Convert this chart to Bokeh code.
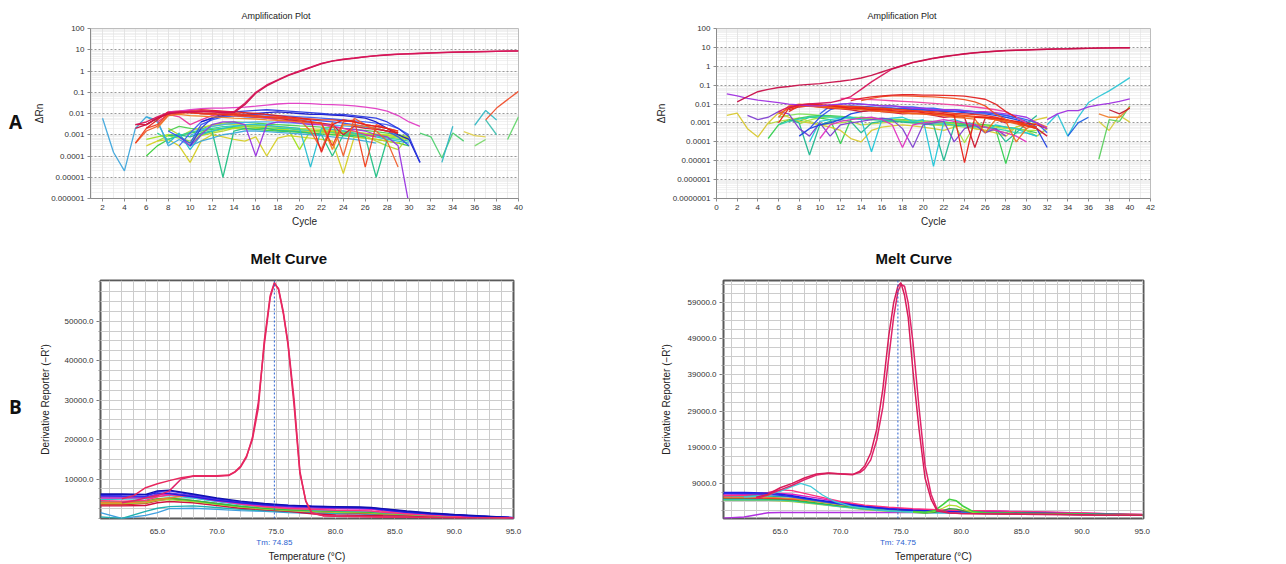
from bokeh.plotting import figure
from bokeh.models import FixedTicker, LinearAxis, Span, PrintfTickFormatter, Range1d
from bokeh.layouts import row, column
from bokeh.embed import file_html
from bokeh.resources import INLINE
from bokeh.core.properties import value

FONT = "Liberation Sans"

# ---------------- axis data ----------------
A1_X_TICKS = list(range(2, 41, 2))
A2_X_TICKS = list(range(0, 43, 2))
A1_Y_TICKS = [1e-6, 1e-5, 1e-4, 1e-3, 1e-2, 1e-1, 1, 10, 100]
A1_Y_LABELS = ["0.000001", "0.00001", "0.0001", "0.001", "0.01", "0.1", "1", "10", "100"]
A2_Y_TICKS = [1e-7, 1e-6, 1e-5, 1e-4, 1e-3, 1e-2, 1e-1, 1, 10, 100]
A2_Y_LABELS = ["0.0000001", "0.000001", "0.00001", "0.0001", "0.001", "0.01", "0.1", "1", "10", "100"]

B_X_TICKS = [65, 70, 75, 80, 85, 90, 95]
B1_Y_TICKS = [10000, 20000, 30000, 40000, 50000]
B2_Y_TICKS = [9000, 19000, 29000, 39000, 49000, 59000]
B1_TM = 74.85
B2_TM = 74.75

# ---------------- amplification plot 1 (start cycle, dRn values) ----------------
A1_MAIN_1 = (5, [0.003, 0.004, 0.007, 0.011, 0.012, 0.012, 0.013, 0.013, 0.012, 0.012, 0.03, 0.1, 0.22, 0.38, 0.66, 1.0, 1.5, 2.3, 3.0, 3.6, 4.1, 4.7, 5.3, 5.8, 6.2, 6.5, 6.8, 7.1, 7.4, 7.7, 7.9, 8.1, 8.3, 8.5, 8.7, 8.9])
A1_MAIN_2 = (5, [0.002, 0.003, 0.006, 0.010, 0.011, 0.012, 0.012, 0.012, 0.011, 0.011, 0.026, 0.09, 0.2, 0.36, 0.62, 0.95, 1.45, 2.2, 2.9, 3.5, 4.0, 4.6, 5.2, 5.7, 6.1, 6.4, 6.7, 7.0, 7.3, 7.6, 7.8, 8.0, 8.2, 8.4, 8.6, 8.8])
A1_MAGENTA = (8, [0.012, 0.013, 0.015, 0.017, 0.018, 0.018, 0.019, 0.02, 0.022, 0.025, 0.028, 0.03, 0.03, 0.029, 0.027, 0.026, 0.025, 0.023, 0.02, 0.017, 0.013, 0.008, 0.004, 0.0025])
A1_S01 = (6, [0.002, 0.005, 0.012, 0.013, 0.014, 0.015, 0.014, 0.013, 0.012, 0.011, 0.010, 0.009, 0.008, 0.007, 0.006, 0.005, 0.00015, 0.003, 0.005, 0.004, 0.003, 0.0025, 0.002, 0.0012])
A1_S02 = (5, [0.0004, 0.002, 0.003, 0.010, 0.011, 0.012, 0.013, 0.012, 0.011, 0.010, 0.009, 0.008, 0.007, 0.006, 0.006, 0.005, 0.004, 0.0035, 0.0003, 0.004, 0.005, 0.00003, 0.003, 0.002, 0.0015])
A1_S03 = (5, [0.003, 0.003, 0.006, 0.009, 0.012, 0.011, 0.010, 0.009, 0.0085, 0.008, 0.0075, 0.007, 0.0065, 0.006, 0.005, 0.0045, 0.004, 0.0035, 0.003, 0.001, 0.0025, 0.002, 0.0018, 0.0015, 0.0012])
A1_S04 = (7, [0.004, 0.009, 0.007, 0.003, 0.005, 0.008, 0.010, 0.009, 0.008, 0.007, 0.006, 0.005, 0.0045, 0.004, 0.0035, 0.003, 0.0025, 0.002, 0.0015, 0.001, 0.0008])
A1_S05 = (10, [0.0003, 0.002, 0.006, 0.010, 0.012, 0.013, 0.014, 0.015, 0.014, 0.013, 0.012, 0.011, 0.010, 0.009, 0.009, 0.008, 0.007, 0.006, 0.004, 0.002, 0.0008, 0.00005])
A1_S06 = (8, [0.0015, 0.0008, 0.0004, 0.003, 0.005, 0.007, 0.008, 0.007, 0.0065, 0.006, 0.006, 0.0055, 0.005, 0.005, 0.0045, 0.004, 0.0035, 0.003, 0.0025, 0.002, 0.0015, 0.0008, 0.0003])
A1_S07 = (9, [0.0008, 0.0003, 0.001, 0.003, 0.004, 0.004, 0.003, 0.0001, 0.003, 0.004, 0.004, 0.0035, 0.003, 0.003, 0.0025, 0.002, 0.0018, 0.0015, 0.001, 0.0008, 0.0003, 0.0000005])
A1_S08 = (6, [0.007, 0.004, 0.0004, 0.0012, 0.0002, 0.001, 0.0015, 0.002, 0.0025, 0.003, 0.003, 0.0028, 0.0025, 0.0022, 0.002, 0.00003, 0.002, 0.0018, 0.0015, 0.0012, 0.001, 0.0008, 0.0006, 0.0005, 0.0004])
A1_S09 = (8, [0.0009, 0.001, 0.0008, 0.0012, 0.0015, 0.00001, 0.0015, 0.002, 0.0018, 0.002, 0.0016, 0.0015, 0.0014, 0.0012, 0.001, 0.0001, 0.001, 0.0009, 0.0008, 0.00001, 0.0006])
A1_S10 = (6, [0.0001, 0.0003, 0.0006, 0.0009, 0.0012, 0.0015, 0.0018, 0.002, 0.0022, 0.002, 0.0018, 0.0016, 0.0015, 0.0014, 0.0013, 0.0012, 0.0011, 0.001, 0.0009, 0.0008, 0.0007, 0.0006, 0.0005, 0.0004, 0.0003])
A1_S11 = (7, [0.0005, 0.0009, 0.0007, 0.0005, 0.0012, 0.0025, 0.003, 0.0035, 0.003, 0.0028, 0.0025, 0.0022, 0.002, 0.0018, 0.0016, 0.0015, 0.0014, 0.0012, 0.0011, 0.001, 0.0009, 0.0008, 0.0007, 0.0006])
A1_S12 = (6, [0.0003, 0.0005, 0.0006, 0.0003, 0.00005, 0.0005, 0.001, 0.0008, 0.0006, 0.0005, 0.0008, 0.0001, 0.0007, 0.0009, 0.0008, 0.0007, 0.0006, 0.0005, 0.000015, 0.0008, 0.0007, 0.0006, 0.0005, 0.0004, 0.001])
A1_S13 = (8, [0.002, 0.001, 0.0003, 0.0009, 0.0012, 0.0015, 0.002, 0.0018, 0.002, 0.0019, 0.0017, 0.0016, 0.0015, 0.0014, 0.0013, 0.0012, 0.0011, 0.001, 0.0009, 0.0005, 0.0003, 0.0002, 0.0009])
A1_S14 = (2, [0.006, 0.00015, 0.00002, 0.002, 0.007, 0.005, 0.0003, 0.0006, 0.0003, 0.0005, 0.0007, 0.001, 0.0012, 0.0015, 0.0015, 0.0014, 0.0013, 0.0012, 0.0011, 0.001, 0.0009, 0.0008, 0.0007, 0.0006, 0.0005, 0.0004])
A1_S15 = (5, [0.0004, 0.0015, 0.0025, 0.008, 0.01, 0.011, 0.01, 0.009, 0.009, 0.008, 0.0075, 0.007, 0.0068, 0.0065, 0.006, 0.005, 0.0015, 0.0002, 0.004, 0.0001, 0.006, 0.003, 0.0015, 0.0005, 0.00003])
A1_S16 = (11, [0.004, 0.006, 0.008, 0.009, 0.009, 0.01, 0.011, 0.012, 0.011, 0.01, 0.009, 0.009, 0.0085, 0.008, 0.007, 0.006, 0.004, 0.002, 0.001, 0.0006, 0.00005])
A1_S17 = (31, [0.0012, 0.0008, 0.00008, 0.0012, 0.0005])
A1_S18 = (33, [0.00005, 0.0025])
A1_S19 = (35, [0.0014, 0.0009, 0.0008])
A1_S20 = (36, [0.0003, 0.0006])
A1_S21 = (36, [0.0028, 0.014, 0.005])
A1_S22 = (37, [0.005, 0.001])
A1_S23 = (39, [0.0006, 0.007])
A1_S24 = (37, [0.005, 0.018, 0.045, 0.11])
A1_S25 = (6, [0.003, 0.006, 0.011, 0.012, 0.011, 0.010, 0.010, 0.009, 0.009, 0.008, 0.008, 0.007, 0.007, 0.006, 0.006, 0.0055, 0.005, 0.005, 0.0045, 0.004, 0.003, 0.0025, 0.002, 0.0015])
A1_S26 = (7, [0.002, 0.008, 0.009, 0.008, 0.0075, 0.007, 0.0065, 0.006, 0.0058, 0.0055, 0.005, 0.0048, 0.0045, 0.004, 0.0038, 0.0035, 0.0002, 0.003, 0.0028, 0.0025, 0.002, 0.0015, 0.0012])
A1_S27 = (9, [0.0003, 0.0012, 0.004, 0.006, 0.007, 0.008, 0.009, 0.009, 0.0085, 0.008, 0.0075, 0.007, 0.0065, 0.006, 0.0055, 0.005, 0.0045, 0.004, 0.0035, 0.003, 0.002, 0.001])
A1_S28 = (8, [0.0015, 0.0025, 0.002, 0.0018, 0.003, 0.0035, 0.004, 0.0038, 0.0035, 0.0032, 0.003, 0.0028, 0.0026, 0.0025, 0.0023, 0.0022, 0.002, 0.0018, 0.0016, 0.0014, 0.0012, 0.001, 0.0008])
A1_S29 = (9, [0.0008, 0.0015, 0.0022, 0.0028, 0.0032, 0.003, 0.0028, 0.0026, 0.0025, 0.0024, 0.0022, 0.002, 0.0019, 0.0018, 0.0016, 0.0015, 0.0014, 0.0012, 0.0011, 0.001, 0.0009, 0.0008])
A1_S30 = (7, [0.0012, 0.0006, 0.0009, 0.0013, 0.0017, 0.002, 0.0024, 0.0026, 0.0025, 0.0023, 0.0021, 0.002, 0.0019, 0.0017, 0.0016, 0.0015, 0.0013, 0.0012, 0.0011, 0.001, 0.0009, 0.0007, 0.0006, 0.0005])
A1_S31 = (10, [0.0009, 0.0016, 0.0025, 0.003, 0.0034, 0.0038, 0.004, 0.004, 0.0038, 0.0036, 0.0034, 0.0032, 0.003, 0.0028, 0.0026, 0.0024, 0.0022, 0.002, 0.0015, 0.001])
A1_S32 = (6, [0.0006, 0.0008, 0.001, 0.0009, 0.0004, 0.001, 0.0014, 0.0018, 0.0021, 0.0024, 0.0022, 0.002, 0.0018, 0.0017, 0.0002, 0.0016, 0.0015, 0.0014, 0.0013, 0.0012, 0.0011, 0.001, 0.0009, 0.0008, 0.0007])

# ---------------- amplification plot 2 ----------------
A2_MAIN_1 = (2, [0.013, 0.025, 0.045, 0.06, 0.075, 0.085, 0.1, 0.11, 0.12, 0.14, 0.16, 0.19, 0.24, 0.33, 0.5, 0.75, 1.1, 1.6, 2.1, 2.7, 3.3, 3.9, 4.6, 5.2, 5.8, 6.3, 6.8, 7.1, 7.4, 7.7, 8.0, 8.3, 8.5, 8.8, 9.0, 9.2, 9.4, 9.5, 9.6])
A2_MAIN_2 = (6, [0.004, 0.007, 0.009, 0.01, 0.011, 0.012, 0.016, 0.025, 0.06, 0.15, 0.33, 0.72, 1.05, 1.55, 2.0, 2.6, 3.2, 3.8, 4.5, 5.1, 5.7, 6.2, 6.7, 7.0, 7.3, 7.6, 7.9, 8.2, 8.4, 8.7, 8.9, 9.1, 9.3, 9.4, 9.5])
A2_PURPLE_L = (1, [0.035, 0.027, 0.02, 0.016, 0.014, 0.012, 0.01, 0.009, 0.008, 0.008, 0.009, 0.01, 0.011, 0.01, 0.009, 0.008, 0.008, 0.007, 0.006, 0.006, 0.005, 0.005, 0.005, 0.0045, 0.004, 0.004, 0.0035, 0.003, 0.0025, 0.002, 0.001, 0.0005])
A2_PURPLE_R = (32, [0.0015, 0.003, 0.0045, 0.0045, 0.007, 0.009, 0.011, 0.014, 0.019])
A2_HIGH_1 = (13, [0.015, 0.02, 0.024, 0.027, 0.03, 0.031, 0.031, 0.03, 0.03, 0.029, 0.028, 0.026, 0.022, 0.018, 0.01, 0.004, 0.002])
A2_HIGH_2 = (14, [0.015, 0.02, 0.025, 0.027, 0.027, 0.026, 0.025, 0.024, 0.022, 0.02, 0.017, 0.013, 0.008, 0.003, 0.0015, 0.001, 0.0005])
A2_HIGH_3 = (12, [0.02, 0.02, 0.018, 0.017, 0.016, 0.015, 0.014, 0.013, 0.012, 0.011, 0.01, 0.009, 0.008, 0.007, 0.006, 0.005, 0.004, 0.002, 0.001])
A2_S01 = (6, [0.001, 0.006, 0.009, 0.01, 0.009, 0.008, 0.007, 0.006, 0.006, 0.005, 0.005, 0.0045, 0.004, 0.004, 0.0035, 0.003, 0.003, 0.0025, 0.000008, 0.002, 0.002, 0.0018, 0.0015, 0.0012, 0.001, 0.0008, 0.0005])
A2_S02 = (6, [0.002, 0.008, 0.01, 0.009, 0.008, 0.007, 0.0065, 0.006, 0.0055, 0.005, 0.0045, 0.004, 0.0035, 0.003, 0.003, 0.0028, 0.0025, 0.002, 0.0018, 0.0016, 0.0003, 0.0015, 0.0012, 0.0001, 0.0005, 0.001, 0.0006])
A2_S03 = (7, [0.005, 0.007, 0.008, 0.007, 0.006, 0.0055, 0.005, 0.004, 0.0045, 0.004, 0.0035, 0.003, 0.0032, 0.003, 0.0025, 0.002, 0.0022, 0.002, 0.00005, 0.0018, 0.0015, 0.001, 0.0012, 0.0008, 0.0005, 0.0002])
A2_S04 = (8, [0.0002, 0.0005, 0.0008, 0.001, 0.0015, 0.003, 0.004, 0.005, 0.006, 0.006, 0.0055, 0.005, 0.005, 0.0045, 0.004, 0.004, 0.0035, 0.003, 0.003, 0.0025, 0.002, 0.0015, 0.001, 0.0005, 0.00005])
A2_S05 = (10, [0.003, 0.008, 0.01, 0.011, 0.01, 0.009, 0.008, 0.008, 0.007, 0.007, 0.006, 0.006, 0.005, 0.005, 0.0045, 0.004, 0.0035, 0.003, 0.0025, 0.002, 0.0015, 0.001, 0.0003])
A2_S06 = (9, [0.0001, 0.0012, 0.0015, 0.0018, 0.002, 0.0015, 0.00003, 0.0015, 0.0018, 0.002, 0.0012, 0.0015, 0.000005, 0.0012, 0.0015, 0.001, 0.0009, 0.0003, 0.0008, 0.0006, 0.0005, 0.0003, 0.0002])
A2_S07 = (5, [0.00015, 0.0008, 0.0015, 0.0012, 0.002, 0.0018, 0.0015, 0.00008, 0.0015, 0.002, 0.0018, 0.0016, 0.0015, 0.0014, 0.0013, 0.0012, 0.0011, 0.001, 0.0009, 0.0008, 0.0007, 0.0006, 0.0005, 0.000007, 0.0005])
A2_S08 = (6, [0.002, 0.0025, 0.003, 0.0028, 0.0025, 0.0022, 0.002, 0.0018, 0.0016, 0.0015, 0.0014, 0.0013, 0.0012, 0.0011, 0.001, 0.0009, 0.0008, 0.0007, 0.0006, 0.0005, 0.0004, 0.0004, 0.0003, 0.0006, 0.0009, 0.001])
A2_S09 = (1, [0.0025, 0.0033, 0.0005, 0.00018, 0.001, 0.0035, 0.002, 0.0012, 0.001, 0.0008, 0.0006, 0.0004, 0.00015, 0.0001, 0.0004, 0.0006, 0.0007, 0.0008, 0.0007, 0.0006, 0.0005, 0.0004, 0.0006, 0.0008, 0.0005, 0.0004, 0.0003, 0.0002, 0.0006, 0.001, 0.0015, 0.002])
A2_S10 = (5, [0.0009, 0.0012, 0.0015, 0.0018, 0.0012, 0.0008, 0.0009, 0.001, 0.0012, 0.0008, 0.0009, 0.001, 0.0011, 0.0012, 0.001, 0.0009, 0.0008, 0.0007, 0.0008, 0.0009, 0.001, 0.0008, 0.0007, 0.0006, 0.0005, 0.0004, 0.0002, 0.0005])
A2_S11 = (3, [0.0025, 0.0015, 0.002, 0.004, 0.003, 0.0005, 0.0002, 0.001, 0.0002, 0.0008, 0.001, 0.0012, 0.0015, 0.0018, 0.0015, 0.0005, 0.00005, 0.0008, 0.001, 0.0012, 0.0001, 0.0005, 0.0008, 0.0003, 0.0005, 0.0002])
A2_S12 = (7, [0.0015, 0.001, 0.00002, 0.0008, 0.0012, 0.0015, 0.0012, 0.0003, 0.001, 0.0012, 0.0013, 0.0011, 0.001, 0.0009, 0.0008, 0.00001, 0.0007, 0.0008, 0.0007, 0.0006, 0.0005, 0.0001, 0.0003, 0.0009, 0.0025])
A2_S13 = (10, [0.00015, 0.0008, 0.0012, 0.0015, 0.0018, 0.002, 0.0015, 0.0008, 0.00005, 0.0008, 0.001, 0.0012, 0.0015, 0.0012, 0.001, 0.0008, 0.0006, 0.0004, 0.0003, 0.0002, 0.0001])
A2_S14 = (32, [0.0008, 0.003, 0.0002, 0.002, 0.012, 0.025, 0.05, 0.11, 0.25])
A2_S15 = (34, [0.0002, 0.001, 0.002])
A2_S16 = (37, [0.0012, 0.0004, 0.0025, 0.0011])
A2_S17 = (37, [0.000012, 0.0015, 0.0012, 0.008])
A2_S18 = (37, [0.003, 0.002, 0.002, 0.007])
A2_S19 = (38, [0.005, 0.003, 0.006])
A2_S20 = (7, [0.004, 0.008, 0.009, 0.0085, 0.008, 0.0075, 0.007, 0.0065, 0.006, 0.0055, 0.005, 0.0048, 0.0045, 0.0042, 0.004, 0.0036, 0.0032, 0.003, 0.0028, 0.0025, 0.002, 0.0015, 0.001, 0.0007, 0.0005])
A2_S21 = (6, [0.003, 0.006, 0.008, 0.0075, 0.007, 0.0065, 0.006, 0.0055, 0.005, 0.0045, 0.004, 0.0038, 0.0035, 0.0033, 0.003, 0.0028, 0.0026, 0.0024, 0.0022, 0.002, 0.0018, 0.0015, 0.0012, 0.0009, 0.0007, 0.0005])
A2_S22 = (9, [0.0005, 0.002, 0.005, 0.007, 0.008, 0.0075, 0.007, 0.0065, 0.006, 0.0058, 0.0055, 0.005, 0.0048, 0.0045, 0.0042, 0.004, 0.0038, 0.0035, 0.003, 0.0025, 0.0018, 0.0012, 0.0006])
A2_S23 = (7, [0.0012, 0.0018, 0.0022, 0.0025, 0.0024, 0.0022, 0.002, 0.0019, 0.0018, 0.0017, 0.0016, 0.0015, 0.0014, 0.0013, 0.0012, 0.0011, 0.001, 0.0009, 0.0008, 0.0008, 0.0007, 0.0006, 0.0005, 0.0004, 0.0003])
A2_S24 = (8, [0.0009, 0.0014, 0.0019, 0.0021, 0.002, 0.0019, 0.0018, 0.0017, 0.0016, 0.0015, 0.0014, 0.0013, 0.0012, 0.0011, 0.001, 0.0009, 0.00009, 0.0008, 0.0007, 0.0006, 0.0005, 0.0005, 0.0004, 0.0004])
A2_S25 = (6, [0.0008, 0.0012, 0.0016, 0.002, 0.0022, 0.0021, 0.002, 0.0018, 0.0016, 0.0015, 0.0014, 0.0013, 0.0012, 0.0011, 0.001, 0.0009, 0.0009, 0.0008, 0.0007, 0.0006, 0.0006, 0.0005, 0.0004, 0.0003, 0.0003, 0.0002])
A2_S26 = (7, [0.006, 0.009, 0.01, 0.009, 0.0085, 0.008, 0.0075, 0.007, 0.0065, 0.006, 0.0055, 0.005, 0.0045, 0.004, 0.0035, 0.003, 0.0028, 0.0025, 0.0022, 0.002, 0.0017, 0.0014, 0.0011, 0.0008, 0.0006])

# ---------------- melt curves ----------------
MELT_T = [60.2, 62, 64, 65, 66, 68, 70, 72, 74, 76, 78, 80, 82, 83, 84, 86, 88, 90, 92, 95]
B1_BG_01 = [6000, 6000, 6000, 6500, 6300, 5500, 4600, 4000, 3500, 3200, 3000, 2800, 2700, 2600, 2200, 1600, 1200, 900, 600, 200]
B1_BG_02 = [5800, 5700, 5600, 6800, 7000, 6000, 5000, 4200, 3600, 3300, 3100, 2900, 2800, 2700, 2300, 1700, 1200, 900, 600, 200]
B1_BG_03 = [5200, 5200, 5300, 6000, 6200, 5500, 4500, 3700, 3200, 2900, 2700, 2500, 2400, 2300, 2000, 1500, 1100, 800, 500, 150]
B1_BG_04 = [3500, 3500, 3800, 4500, 5000, 4500, 3800, 3000, 2500, 2200, 1800, 1600, 1400, 1300, 1100, 900, 700, 500, 300, 100]
B1_BG_05 = [4500, 4400, 4600, 5500, 6000, 5600, 4700, 3800, 3000, 2600, 2300, 2100, 2000, 1900, 1600, 1200, 900, 600, 400, 100]
B1_BG_06 = [4200, 4200, 4400, 5000, 5200, 4600, 3800, 3100, 2600, 2200, 2000, 1800, 1700, 1600, 1400, 1100, 800, 600, 400, 100]
B1_BG_07 = [4800, 4900, 5000, 5600, 5800, 5200, 4300, 3500, 2900, 2500, 2200, 2000, 1900, 1800, 1500, 1100, 800, 600, 400, 100]
B1_BG_08 = [4000, 4000, 4200, 4800, 5200, 6000, 4800, 3600, 2900, 2500, 2400, 2500, 2600, 2600, 1800, 1200, 900, 600, 400, 100]
B1_BG_09 = [5500, 5500, 5400, 6200, 6500, 5800, 4800, 4000, 3400, 3000, 2800, 2700, 2700, 2700, 2400, 1800, 1300, 900, 600, 200]
B1_BG_10 = [3800, 3800, 4000, 4600, 4800, 4300, 3600, 2900, 2400, 2000, 1800, 1600, 1500, 1400, 1200, 1000, 700, 500, 300, 100]
B1_BG_11 = [6200, 6200, 6100, 7000, 7200, 6200, 5200, 4400, 3800, 3400, 3100, 3000, 2900, 2800, 2500, 1900, 1400, 1000, 700, 200]
B1_BG_12 = [3200, 3200, 3300, 4000, 4300, 4000, 3300, 2600, 2200, 1800, 1200, 900, 800, 800, 700, 600, 500, 400, 300, 100]
B1_BG_13 = [1500, 0, 800, 1500, 2500, 2600, 2300, 2000, 1800, 1500, 1300, 1200, 1100, 1000, 900, 700, 500, 400, 200, 50]
B1_BG_14 = [400, 0, 1800, 2600, 3000, 3200, 2800, 2300, 2000, 1700, 1500, 1400, 1300, 1200, 1000, 800, 600, 400, 250, 50]

B1_PEAK_T = [62, 63, 64, 65, 66, 67, 68, 69, 70, 71, 71.5, 72, 72.5, 73, 73.5, 74, 74.5, 74.85, 75.2, 75.6, 76, 76.5, 77, 77.5, 78, 79, 80, 82, 84, 86, 88, 90, 92, 95]
B1_PEAK_1 = [5000, 5800, 7800, 8800, 9600, 10300, 10800, 10800, 10800, 11000, 11800, 13200, 15800, 20000, 28000, 45000, 56500, 59800, 58000, 52000, 44000, 29000, 11500, 4500, 1500, 700, 600, 500, 400, 300, 250, 200, 150, 100]
B1_PEAK_2 = [4000, 4500, 5200, 5800, 7000, 10000, 10700, 10700, 10700, 10900, 11700, 13000, 15500, 20500, 29500, 44000, 56000, 59500, 58300, 52500, 44500, 30500, 12000, 4300, 1300, 700, 600, 500, 400, 300, 250, 200, 150, 100]

B2_BG_01 = [6500, 6500, 6300, 6000, 5600, 4500, 3500, 2600, 2000, 1600, 1300, 1100, 1000, 950, 900, 800, 700, 600, 500, 300]
B2_BG_02 = [6200, 6200, 6000, 5700, 5300, 4300, 3300, 2500, 1900, 1500, 1200, 1000, 900, 850, 800, 700, 600, 500, 400, 250]
B2_BG_03 = [5800, 5900, 6000, 6200, 6000, 5000, 3800, 2800, 2200, 1800, 1500, 1400, 1400, 1400, 1300, 1200, 1000, 800, 600, 400]
B2_BG_04 = [5600, 5700, 6500, 7200, 7000, 5500, 4000, 3000, 2400, 2000, 1700, 1500, 1400, 1300, 1200, 1100, 1000, 800, 600, 400]
B2_BG_05 = [4800, 4800, 4700, 4600, 4400, 3600, 2800, 2100, 1600, 1300, 1100, 1000, 900, 850, 800, 700, 600, 500, 400, 250]
B2_BG_06 = [5200, 5200, 5100, 5000, 4800, 4000, 3100, 2400, 1800, 1500, 1300, 1200, 1100, 1000, 950, 850, 750, 600, 500, 300]
B2_BG_07 = [5000, 5000, 4900, 4800, 4700, 4200, 3400, 2600, 2000, 1700, 1500, 1400, 1300, 1200, 1100, 1000, 900, 700, 500, 300]
B2_BG_08 = [4500, 4500, 4500, 4400, 4200, 3400, 2600, 1900, 1400, 1100, 900, 800, 700, 650, 600, 550, 500, 400, 300, 200]
B2_BG_09 = [4300, 4300, 4300, 4200, 4000, 3300, 2500, 1800, 1300, 1100, 1300, 900, 700, 650, 600, 550, 500, 400, 300, 200]
B2_BG_10 = [-650, -300, 900, 950, 950, 950, 950, 950, 950, 950, 950, 900, 850, 800, 700, 600, 500, 400, 300, 200]
B2_BG_11 = [5500, 5600, 5500, 5400, 5200, 4200, 3200, 2400, 1800, 1400, 1100, 900, 800, 750, 700, 650, 600, 500, 400, 250]
B2_CYAN_T = [62, 63, 64, 65, 66, 66.7, 67.5, 68.5, 69.5, 71, 73, 75, 78, 80, 85, 90, 95]
B2_CYAN = [5200, 5400, 5800, 6800, 8200, 9000, 8200, 5800, 4000, 2600, 1700, 1200, 900, 800, 600, 400, 200]
B2_BUMP_T = [76, 77, 77.8, 78.5, 79, 79.6, 80.2, 81, 82, 84, 88, 95]
B2_BUMP_1 = [1200, 1000, 1500, 3200, 4600, 4200, 2600, 1200, 900, 800, 600, 300]
B2_BUMP_2 = [1100, 900, 1300, 2200, 3000, 2800, 1800, 1000, 800, 700, 500, 250]
B2_BUMP_3 = [1000, 800, 1000, 1500, 2000, 1900, 1400, 900, 700, 600, 450, 250]
B2_PEAK_T = [63, 64, 65, 66, 67, 68, 69, 70, 71, 71.6, 72, 72.5, 73, 73.5, 74, 74.4, 74.75, 75, 75.3, 75.6, 76, 76.5, 77, 77.5, 78, 79, 80, 82, 85, 88, 91, 95]
B2_PEAK_1 = [5200, 6000, 7800, 9000, 10500, 11600, 11900, 11600, 11400, 12400, 13800, 17400, 24000, 35000, 50000, 59000, 63500, 64500, 61000, 55000, 40000, 24000, 10500, 4600, 1400, 800, 700, 600, 500, 400, 300, 200]
B2_PEAK_2 = [4800, 5800, 7200, 8500, 10000, 11300, 11800, 11700, 11500, 12000, 13000, 15500, 21000, 30000, 44000, 55000, 62000, 64000, 63500, 59000, 48000, 30000, 14000, 6000, 1800, 900, 700, 600, 500, 400, 300, 200]

PANEL_LETTERS = ["A", "B"]

TOP_H = 234
BOT_H = 330


def letter_fig(h, letter, ypos):
    p = figure(width=30, height=h, x_range=Range1d(0, 30), y_range=Range1d(h, 0),
               x_axis_type=None, y_axis_type=None, toolbar_location=None,
               output_backend="svg", min_border=0)
    p.grid.visible = False
    p.outline_line_color = None
    p.text(x=[15], y=[ypos], text=[letter], text_align="center", text_baseline="middle",
           text_font=value("Open Sans"), text_font_style="bold", text_font_size="19px",
           text_color="#111111")
    return p


def style_axis(ax, label_size="10px", tick_size="8px"):
    ax.major_label_text_font = FONT
    ax.major_label_text_font_size = tick_size
    ax.major_label_text_color = "#333333"
    ax.axis_label_text_font = FONT
    ax.axis_label_text_font_size = label_size
    ax.axis_label_text_font_style = "normal"
    ax.axis_label_text_color = "#222222"


def amp_fig(width, xr, yr, xticks, yticks, ylabels, bl, br, bt, bb, toff, x_minor):
    p = figure(width=width, height=TOP_H, x_range=xr, y_range=yr, y_axis_type="log",
               output_backend="svg", toolbar_location=None,
               min_border_left=bl, min_border_right=br, min_border_top=bt, min_border_bottom=bb)
    p.title.text = "Amplification Plot"
    p.title.align = "left"
    p.title.offset = toff
    p.title.text_font = FONT
    p.title.text_font_size = "9px"
    p.title.text_font_style = "normal"
    p.title.text_color = "#222222"
    p.title.standoff = 15
    xt = FixedTicker(ticks=xticks, minor_ticks=x_minor)
    y_minor = [m * 10.0 ** e for e in range(-8, 3) for m in range(2, 10)]
    yt = FixedTicker(ticks=yticks, minor_ticks=y_minor)
    p.xaxis.ticker = xt
    p.yaxis.ticker = yt
    p.xgrid.ticker = xt
    p.ygrid.ticker = yt
    p.yaxis.major_label_overrides = dict(zip(yticks, ylabels))
    p.xaxis.axis_label = "Cycle"
    p.yaxis.axis_label = "ΔRn"
    for ax in (p.xaxis[0], p.yaxis[0]):
        style_axis(ax)
        ax.axis_line_color = "#8c8c8c"
        ax.major_tick_line_color = "#8c8c8c"
        ax.minor_tick_line_color = None
        ax.major_tick_out = 3
        ax.major_tick_in = 0
        ax.major_label_standoff = 2
        ax.axis_label_standoff = 3
    p.ygrid.grid_line_color = "#9a9a9a"
    p.ygrid.grid_line_dash = "2 2"
    p.ygrid.minor_grid_line_color = "#e2e2e2"
    p.ygrid.minor_grid_line_dash = "1 1"
    p.xgrid.grid_line_color = "#dadada"
    p.xgrid.grid_line_dash = "1 1"
    p.xgrid.minor_grid_line_color = "#dadada"
    p.xgrid.minor_grid_line_dash = "1 1"
    p.outline_line_color = "#bdbdbd"
    return p


def add_series(p, series, color, width=1.3):
    start, vals = series
    xs = list(range(start, start + len(vals)))
    p.line(xs, vals, line_color=color, line_width=width, line_alpha=0.95)


def melt_fig(width, xr, yr, yticks, yminor, tm, bl, br, toff, label_standoff):
    p = figure(width=width, height=BOT_H, x_range=xr, y_range=yr,
               output_backend="svg", toolbar_location=None,
               min_border_left=bl, min_border_right=br, min_border_top=45, min_border_bottom=45)
    p.title.text = "Melt Curve"
    p.title.align = "left"
    p.title.offset = toff
    p.title.text_font = FONT
    p.title.text_font_size = "15px"
    p.title.text_font_style = "bold"
    p.title.text_color = "#111111"
    p.title.standoff = 27
    xt = FixedTicker(ticks=B_X_TICKS, minor_ticks=list(range(60, 96)))
    yt = FixedTicker(ticks=yticks, minor_ticks=yminor)
    p.xaxis.ticker = xt
    p.yaxis.ticker = yt
    p.xgrid.ticker = xt
    p.ygrid.ticker = yt
    p.xaxis.formatter = PrintfTickFormatter(format="%.1f")
    p.yaxis.formatter = PrintfTickFormatter(format="%.1f")
    p.yaxis.axis_label = "Derivative Reporter (−R')"
    for ax in (p.xaxis[0], p.yaxis[0]):
        style_axis(ax)
        ax.axis_line_color = None
    p.xaxis.major_tick_out = 0
    p.xaxis.minor_tick_out = 0
    p.xaxis.major_tick_line_color = None
    p.xaxis.minor_tick_line_color = None
    p.xaxis.major_label_standoff = 10
    p.yaxis.major_tick_out = 4
    p.yaxis.minor_tick_out = 2
    p.yaxis.major_tick_in = 0
    p.yaxis.minor_tick_in = 0
    p.yaxis.major_tick_line_color = "#777777"
    p.yaxis.minor_tick_line_color = "#999999"
    p.yaxis.major_label_standoff = 3
    p.yaxis.axis_label_standoff = label_standoff
    tm_axis = LinearAxis(ticker=FixedTicker(ticks=[tm]),
                         formatter=PrintfTickFormatter(format="Tm: %.2f"),
                         axis_line_color=None, major_tick_line_color=None,
                         minor_tick_line_color=None, major_tick_out=0, minor_tick_out=0,
                         major_label_standoff=1, axis_label="Temperature (°C)",
                         axis_label_standoff=1)
    style_axis(tm_axis)
    tm_axis.major_label_text_color = "#2a62d0"
    p.add_layout(tm_axis, "below")
    p.xgrid.grid_line_color = "#cccccc"
    p.xgrid.minor_grid_line_color = "#cccccc"
    p.ygrid.grid_line_color = "#cccccc"
    p.ygrid.minor_grid_line_color = "#cccccc"
    p.outline_line_color = "#5a5a5a"
    p.outline_line_width = 2
    p.add_layout(Span(location=tm, dimension="height", line_color="#2a62d0",
                      line_dash="2 2", line_width=1))
    return p


# ---------------- panel A, left ----------------
tl = amp_fig(610, Range1d(0.9, 40), Range1d(1e-6, 100), A1_X_TICKS, A1_Y_TICKS, A1_Y_LABELS,
             60, 122, 27, 35, 151, list(range(1, 41)))
for s, c in [
    (A1_S10, "#3ccf3c"), (A1_S11, "#8fe03a"), (A1_S12, "#d6cf26"), (A1_S13, "#b4d433"),
    (A1_S28, "#50d050"), (A1_S29, "#c0dc30"), (A1_S30, "#30d0a0"), (A1_S32, "#a0e020"),
    (A1_S09, "#22c085"), (A1_S08, "#25bdd0"), (A1_S14, "#3fa6dc"), (A1_S31, "#40b0f0"),
    (A1_S07, "#9933e0"), (A1_S06, "#3355ee"), (A1_S27, "#4060f0"), (A1_S16, "#1616c8"),
    (A1_S05, "#2a3ae2"), (A1_S04, "#e8329a"), (A1_S26, "#f08020"), (A1_S03, "#d81a32"),
    (A1_S15, "#f0602e"), (A1_S25, "#e83020"), (A1_S02, "#f0401e"), (A1_S01, "#e4201c"),
    (A1_S17, "#4fd070"), (A1_S18, "#2fb5c5"), (A1_S19, "#e0d050"), (A1_S20, "#7ad86a"),
    (A1_S21, "#36b8c4"), (A1_S22, "#40c0b0"), (A1_S23, "#62d66a"), (A1_S24, "#f0502e"),
    (A1_MAGENTA, "#e03cc4"),
]:
    add_series(tl, s, c)
add_series(tl, A1_MAIN_2, "#c8104a", 1.4)
add_series(tl, A1_MAIN_1, "#d8145a", 1.4)

# ---------------- panel A, right ----------------
tr = amp_fig(646, Range1d(0, 42), Range1d(1e-7, 100), A2_X_TICKS, A2_Y_TICKS, A2_Y_LABELS,
             76, 136, 28, 36, 151, list(range(0, 43)))
for s, c in [
    (A2_S07, "#33cf50"), (A2_S08, "#86e05e"), (A2_S09, "#d8c830"), (A2_S10, "#b8d840"),
    (A2_S23, "#40d050"), (A2_S24, "#a8e040"), (A2_S25, "#30d0b0"),
    (A2_S12, "#22b890"), (A2_S06, "#22c6d8"), (A2_S11, "#8040d0"), (A2_S13, "#e030c0"),
    (A2_S04, "#2040e0"), (A2_S22, "#3050e8"), (A2_S05, "#3060f0"), (A2_S03, "#d01830"),
    (A2_S02, "#f07020"), (A2_S21, "#f06018"), (A2_S20, "#e83020"), (A2_S26, "#f04010"),
    (A2_S01, "#e82018"), (A2_S14, "#2ec6d6"), (A2_S15, "#2060e0"), (A2_S16, "#d8cc40"),
    (A2_S17, "#5cd060"), (A2_S18, "#f08030"), (A2_S19, "#c01830"),
    (A2_PURPLE_L, "#a030e0"), (A2_PURPLE_R, "#a030e0"),
    (A2_HIGH_3, "#f040a0"), (A2_HIGH_2, "#f05020"), (A2_HIGH_1, "#e02020"),
]:
    add_series(tr, s, c)
add_series(tr, A2_MAIN_2, "#d8145a", 1.4)
add_series(tr, A2_MAIN_1, "#c8104a", 1.4)

# ---------------- panel B, left ----------------
bl = melt_fig(610, Range1d(60.2, 95), Range1d(0, 60300), B1_Y_TICKS,
              [2500 * k for k in range(0, 25)], B1_TM, 70, 127, 150, 11)
for vals, c in [
    (B1_BG_13, "#40a0e0"), (B1_BG_14, "#20b0b0"), (B1_BG_12, "#d01040"), (B1_BG_04, "#e02030"),
    (B1_BG_10, "#a0d030"), (B1_BG_06, "#30c040"), (B1_BG_07, "#30c0d0"), (B1_BG_08, "#f08030"),
    (B1_BG_05, "#ff3080"), (B1_BG_03, "#e020c0"), (B1_BG_09, "#8030d0"), (B1_BG_02, "#3030f0"),
    (B1_BG_01, "#2020e0"), (B1_BG_11, "#1010b0"),
]:
    bl.line(MELT_T, vals, line_color=c, line_width=1.4)
bl.line(B1_PEAK_T, B1_PEAK_2, line_color="#e0246a", line_width=1.5)
bl.line(B1_PEAK_T, B1_PEAK_1, line_color="#e8285e", line_width=1.5)

# ---------------- panel B, right ----------------
br = melt_fig(646, Range1d(60.3, 95.1), Range1d(-700, 65100), B2_Y_TICKS,
              [-1000 + 2500 * k for k in range(0, 27)], B2_TM, 83, 143, 152, 13)
for vals, c in [
    (B2_BG_10, "#b030e0"), (B2_BG_09, "#a0d030"), (B2_BG_08, "#30c0d0"), (B2_BG_05, "#30c040"),
    (B2_BG_07, "#e02030"), (B2_BG_06, "#f08030"), (B2_BG_11, "#20b0a0"), (B2_BG_03, "#e020c0"),
    (B2_BG_04, "#ff3080"), (B2_BG_02, "#3030f0"), (B2_BG_01, "#2020e0"),
]:
    br.line(MELT_T, vals, line_color=c, line_width=1.4)
br.line(B2_CYAN_T, B2_CYAN, line_color="#40c8d8", line_width=1.3)
br.line(B2_BUMP_T, B2_BUMP_3, line_color="#30a040", line_width=1.3)
br.line(B2_BUMP_T, B2_BUMP_2, line_color="#b0e030", line_width=1.3)
br.line(B2_BUMP_T, B2_BUMP_1, line_color="#40d040", line_width=1.6)
br.line(B2_PEAK_T, B2_PEAK_2, line_color="#e0246a", line_width=1.5)
br.line(B2_PEAK_T, B2_PEAK_1, line_color="#d81c5a", line_width=1.5)

top = row(letter_fig(TOP_H, PANEL_LETTERS[0], 129), tl, tr)
bottom = row(letter_fig(BOT_H, PANEL_LETTERS[1], 176), bl, br)
layout = column(top, bottom)

open("out.html", "w").write(file_html(layout, INLINE))
